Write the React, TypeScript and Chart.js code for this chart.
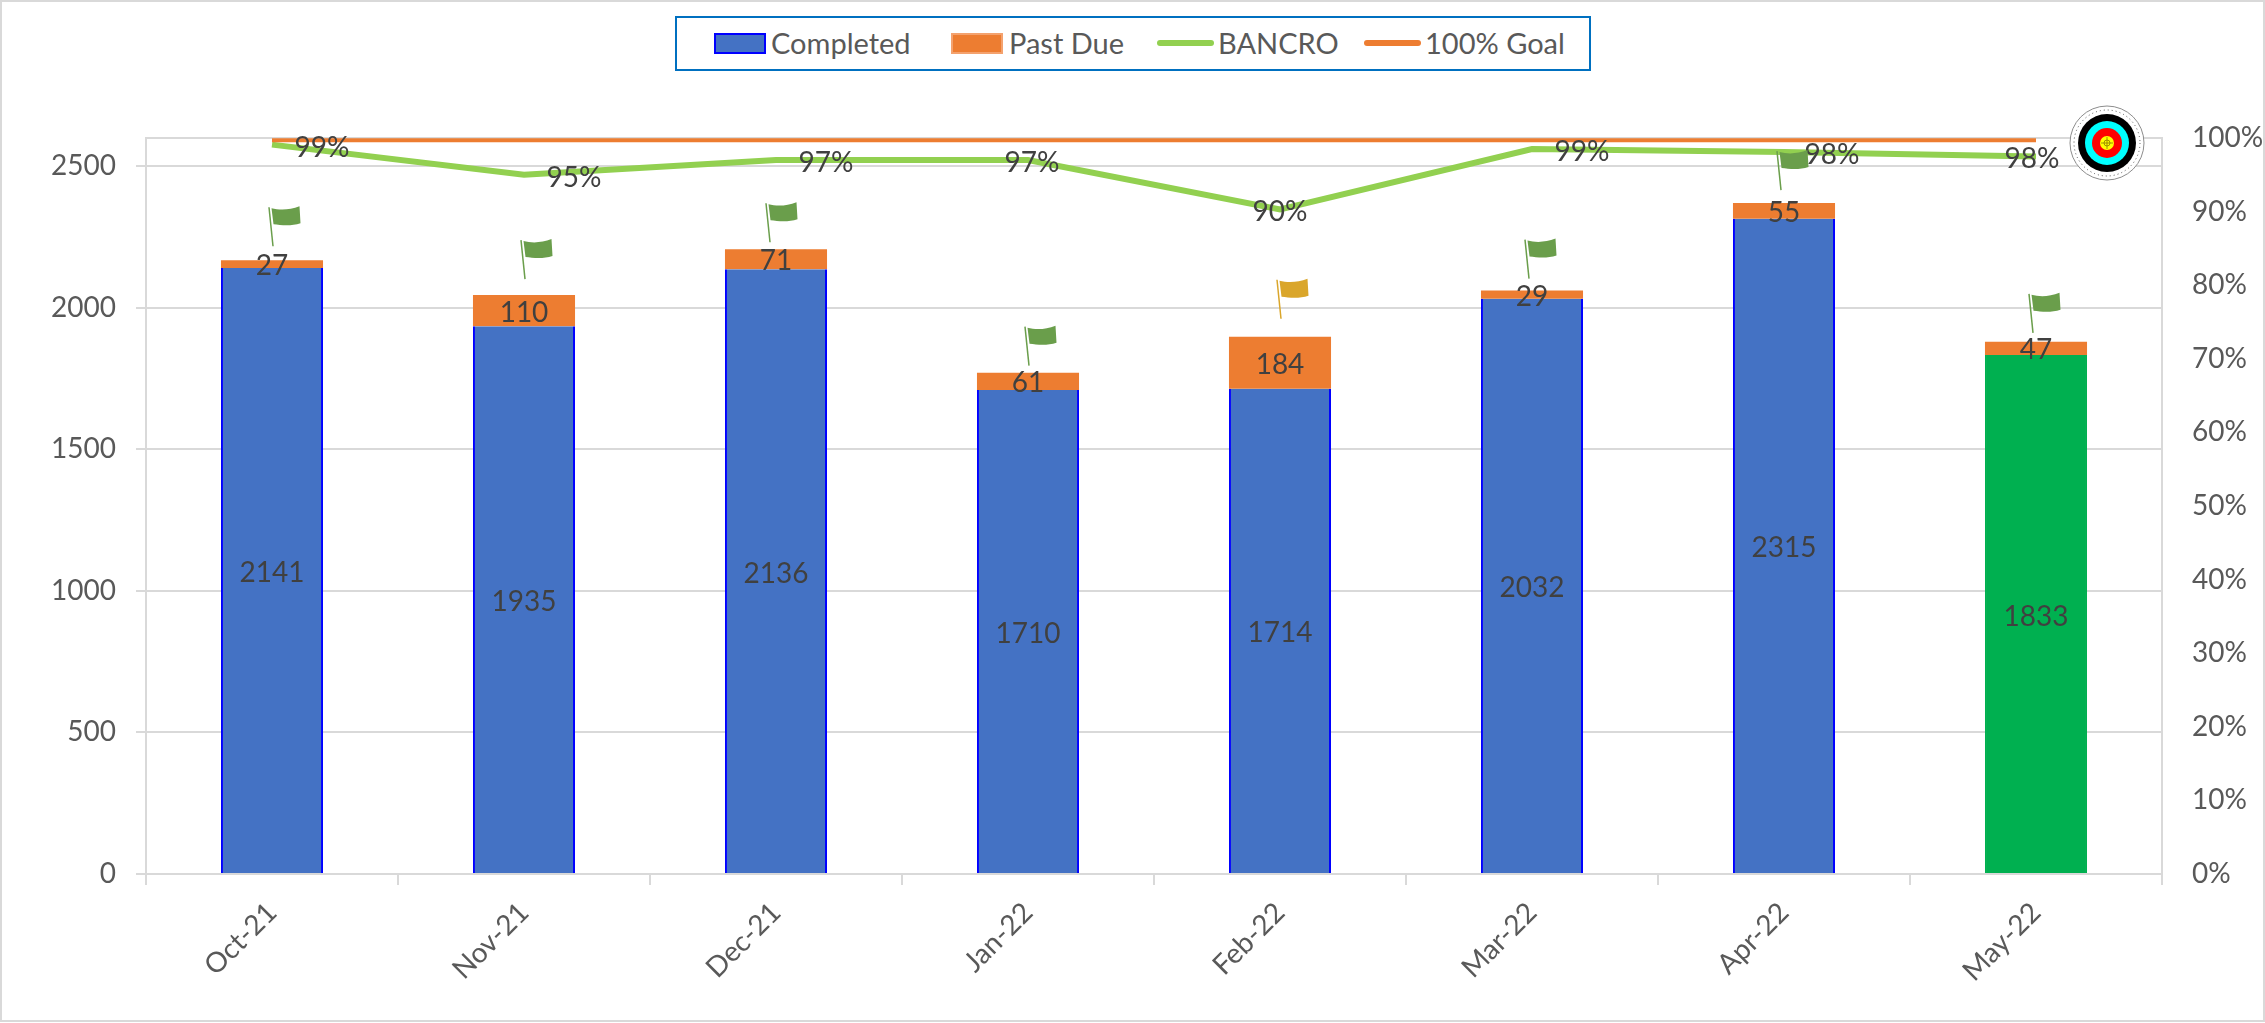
import React, { useEffect, useRef } from "react";
import { Chart, registerables } from "chart.js";

Chart.register(...registerables);

const months = ["Oct-21", "Nov-21", "Dec-21", "Jan-22", "Feb-22", "Mar-22", "Apr-22", "May-22"];
const completed = [2141, 1935, 2136, 1710, 1714, 2032, 2315, 1833];
const pastDue = [27, 110, 71, 61, 184, 29, 55, 47];
const bancro = [0.991, 0.95, 0.97, 0.97, 0.903, 0.985, 0.981, 0.975];
const goal = [0.997, 0.997, 0.997, 0.997, 0.997, 0.997, 0.997, 0.997];
const flagStatus = ["green", "green", "green", "green", "gold", "green", "green", "green"];
const countTicks = [0, 500, 1000, 1500, 2000, 2500];

const FONT = "Lato, Carlito, 'Open Sans', sans-serif";
const AXIS_TEXT = "#595959";
const LABEL_TEXT = "#404040";
const GRID = "#d9d9d9";
const FLAG_COLORS: Record<string, string> = { green: "#6A9E4B", gold: "#DAA62B" };
const lineLabelShiftX = [50, 50, 50, 4, 0, 50, 48, -4];
const flagGap = [14, 16, 7, 7, 18, 12, 13, 9];
const flagShiftX = [0, 0, -7, 0, 0, -4, -4, -4];

const drawFlag = (ctx: CanvasRenderingContext2D, cx: number, bottom: number, color: string) => {
  ctx.save();
  ctx.strokeStyle = color;
  ctx.lineWidth = 1.5;
  ctx.beginPath();
  ctx.moveTo(cx + 1, bottom);
  ctx.lineTo(cx - 3, bottom - 39);
  ctx.stroke();
  ctx.fillStyle = color;
  const l = cx - 0.5;
  const t = bottom - 39;
  ctx.beginPath();
  ctx.moveTo(l, t + 1);
  ctx.bezierCurveTo(l + 8, t + 3, l + 18, t + 3, l + 28, t - 1);
  ctx.lineTo(l + 29, t + 16);
  ctx.bezierCurveTo(l + 20, t + 19, l + 10, t + 18, l + 2, t + 17);
  ctx.closePath();
  ctx.fill();
  ctx.restore();
};

const drawTarget = (ctx: CanvasRenderingContext2D, x: number, y: number) => {
  const rings: [number, string][] = [[29, "#000000"], [22, "#00FFFF"], [15, "#FF0000"], [7, "#FFFF00"]];
  ctx.save();
  ctx.fillStyle = "#ffffff";
  ctx.strokeStyle = "#8c8c8c";
  ctx.lineWidth = 1;
  ctx.beginPath();
  ctx.arc(x, y, 37, 0, Math.PI * 2);
  ctx.fill();
  ctx.stroke();
  ctx.setLineDash([1, 3]);
  ctx.strokeStyle = "#555555";
  ctx.beginPath();
  ctx.arc(x, y, 33, 0, Math.PI * 2);
  ctx.stroke();
  ctx.setLineDash([]);
  rings.forEach(([r, c]) => {
    ctx.fillStyle = c;
    ctx.beginPath();
    ctx.arc(x, y, r, 0, Math.PI * 2);
    ctx.fill();
  });
  ctx.strokeStyle = "#8a7a00";
  ctx.lineWidth = 0.8;
  ctx.beginPath();
  ctx.arc(x, y, 3, 0, Math.PI * 2);
  ctx.moveTo(x - 6, y);
  ctx.lineTo(x + 6, y);
  ctx.moveTo(x, y - 6);
  ctx.lineTo(x, y + 6);
  ctx.stroke();
  ctx.restore();
};

const annotations = {
  id: "annotations",
  afterDatasetsDraw(chart: any) {
    const { ctx, scales } = chart;
    const { x, y, y2 } = scales;
    ctx.save();
    ctx.font = `28px ${FONT}`;
    ctx.fillStyle = LABEL_TEXT;
    ctx.textAlign = "center";
    ctx.textBaseline = "middle";
    months.forEach((_, i) => {
      const cx = x.getPixelForValue(i);
      ctx.fillText(String(completed[i]), cx, y.getPixelForValue(completed[i] / 2) + 2);
      ctx.fillText(String(pastDue[i]), cx, y.getPixelForValue(completed[i] + pastDue[i] / 2) + 2);
      ctx.fillText(`${Math.round(bancro[i] * 100)}%`, cx + lineLabelShiftX[i], y2.getPixelForValue(bancro[i]) + 3);
      drawFlag(ctx, cx + flagShiftX[i], y.getPixelForValue(completed[i] + pastDue[i]) - flagGap[i], FLAG_COLORS[flagStatus[i]]);
    });
    ctx.restore();
    drawTarget(ctx, x.getPixelForValue(months.length - 1) + 71, y2.getPixelForValue(1) + 5);
  },
};

const legendItems = [
  { label: "Completed", kind: "box", color: "#4472C4", border: "#0000FF", left: 714, text: 771 },
  { label: "Past Due", kind: "box", color: "#ED7D31", border: "#F4A26E", left: 951, text: 1009 },
  { label: "BANCRO", kind: "line", color: "#92D050", border: "", left: 1157, text: 1218 },
  { label: "100% Goal", kind: "line", color: "#ED7D31", border: "", left: 1364, text: 1425 },
];

export default function App() {
  const ref = useRef<HTMLCanvasElement>(null);
  useEffect(() => {
    const chart = new Chart(ref.current!, {
      type: "bar",
      plugins: [annotations],
      data: {
        labels: months,
        datasets: [
          {
            type: "line",
            label: "BANCRO",
            data: bancro,
            yAxisID: "y2",
            borderColor: "#92D050",
            borderWidth: 6,
            pointRadius: 0,
            tension: 0,
            clip: false,
            order: 1,
          },
          {
            type: "line",
            label: "100% Goal",
            data: goal,
            yAxisID: "y2",
            borderColor: "#ED7D31",
            borderWidth: 4,
            pointRadius: 0,
            tension: 0,
            clip: false,
            order: 0,
          },
          {
            label: "Completed",
            data: completed,
            yAxisID: "y",
            stack: "s",
            backgroundColor: completed.map((_, i) => (i === 7 ? "#00B050" : "#4472C4")),
            borderColor: completed.map((_, i) => (i === 7 ? "#00B050" : "#0000FF")),
            borderWidth: { left: 2, right: 2, top: 0, bottom: 0 },
            borderSkipped: false,
            order: 2,
          },
          {
            label: "Past Due",
            data: pastDue,
            yAxisID: "y",
            stack: "s",
            backgroundColor: "#ED7D31",
            order: 3,
          },
        ] as any,
      },
      options: {
        animation: false,
        responsive: false,
        layout: { padding: { top: 138, left: 0, right: 0, bottom: 0 } },
        datasets: { bar: { categoryPercentage: 1, barPercentage: 0.405 } },
        plugins: { legend: { display: false }, tooltip: { enabled: false }, title: { display: false } },
        scales: {
          x: {
            stacked: true,
            offset: true,
            grid: { offset: true, drawOnChartArea: false, drawTicks: true, tickLength: 11, color: GRID, lineWidth: 2 },
            border: { color: GRID, width: 2 },
            ticks: { font: { family: FONT, size: 28 }, color: AXIS_TEXT, minRotation: 45, maxRotation: 45, padding: 11 },
            afterFit: (s: any) => { s.height = 149; },
          },
          y: {
            stacked: true,
            min: 0,
            max: 2600,
            position: "left",
            grid: { color: GRID, lineWidth: 2, tickLength: 10 },
            border: { color: GRID, width: 2 },
            afterBuildTicks: (s: any) => { s.ticks = countTicks.map((value) => ({ value })); },
            ticks: { font: { family: FONT, size: 28 }, color: AXIS_TEXT, padding: 20, callback: (v: any) => String(v) },
            afterFit: (s: any) => { s.width = 146; },
          },
          y2: {
            min: 0,
            max: 1,
            position: "right",
            grid: {
              drawTicks: false,
              lineWidth: 2,
              color: (c: any) => (c.tick && c.tick.value === 1 ? GRID : "rgba(0,0,0,0)"),
            },
            border: { color: GRID, width: 2 },
            ticks: {
              stepSize: 0.1,
              font: { family: FONT, size: 28 },
              color: AXIS_TEXT,
              padding: 30,
              callback: (v: any) => `${Math.round(Number(v) * 100)}%`,
            },
            afterFit: (s: any) => { s.width = 103; },
          },
        },
      } as any,
    });
    return () => chart.destroy();
  }, []);

  return (
    <div style={{ position: "absolute", left: 0, top: 0, width: 2265, height: 1023, overflow: "hidden", background: "#fff" }}>
      <canvas ref={ref} width={2265} height={1023} style={{ display: "block", position: "absolute", left: 0, top: 0 }} />
      <div style={{ position: "absolute", left: 0, top: 0, width: 2265, height: 1022, boxSizing: "border-box", border: "2px solid #d9d9d9", pointerEvents: "none" }} />
      <div style={{ position: "absolute", left: 675, top: 16, width: 916, height: 55, boxSizing: "border-box", border: "2px solid #0070C0", background: "#fff" }} />
      {legendItems.map((it) =>
        <React.Fragment key={it.label}>
          {it.kind === "box" ? (
            <div style={{ position: "absolute", left: it.left, top: 33, width: 52, height: 21, boxSizing: "border-box", background: it.color, border: `2px solid ${it.border}` }} />
          ) : (
            <div style={{ position: "absolute", left: it.left, top: 40, width: 57, height: 6, borderRadius: 3, background: it.color }} />
          )}
          <div style={{ position: "absolute", left: it.text, top: 25, height: 36, font: `29px/36px ${FONT}`, color: AXIS_TEXT, whiteSpace: "nowrap" }}>{it.label}</div>
        </React.Fragment>
      )}
    </div>
  );
}
